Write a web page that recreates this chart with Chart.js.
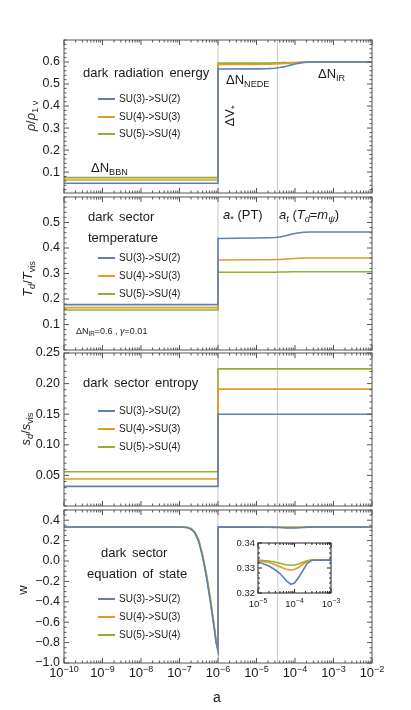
<!doctype html>
<html>

<head>
	<title>Dark sector evolution</title>
	<script src="https://cdn.jsdelivr.net/npm/chart.js@4.4.1/dist/chart.umd.min.js"></script>
	<style>
		body {
			margin: 0;
			background: #fff;
		}
		#wrap {
			position: relative;
			width: 411px;
			height: 710px;
			font-family: 'Liberation Sans', Arial, sans-serif;
			color: #1a1a1a;
		}
		.box {
			position: absolute;
			left: 0;
			width: 411px;
		}
		.txt {
			position: absolute;
			white-space: nowrap;
			line-height: 1;
			transform: translateY(-50%);
			font-size: 13px;
		}
		.rot {
			position: absolute;
			white-space: nowrap;
			line-height: 1;
			transform: translate(-50%, -50%) rotate(-90deg);
			font-size: 13px;
		}
		.txt sub, .rot sub {
			font-size: 70%;
			vertical-align: baseline;
			position: relative;
			top: 0.3em;
		}
		.leg {
			font-size: 10px;
		}
		.legline {
			position: absolute;
			height: 2px;
			width: 17px;
		}
	</style>
</head>

<body>
	<div id="wrap">
		<div class="box" style="top:28px;height:177px"><canvas id="c1"></canvas></div>
		<div class="box" style="top:185px;height:177px"><canvas id="c2"></canvas></div>
		<div class="box" style="top:341px;height:177px"><canvas id="c3"></canvas></div>
		<div class="box" style="top:498px;height:195px"><canvas id="c4"></canvas></div>
		<div class="box" style="left:230px;top:533px;width:110px;height:80px"><canvas id="c5"></canvas></div>

		<!-- panel 1 -->
		<div class="txt" style="left:83px;top:72px;word-spacing:2px">dark radiation energy</div>
		<div class="txt" style="left:91px;top:168px">&Delta;N<sub>BBN</sub></div>
		<div class="rot" style="left:230px;top:116px">&Delta;V<sub>*</sub></div>
		<div class="txt" style="left:226px;top:80px">&Delta;N<sub>NEDE</sub></div>
		<div class="txt" style="left:318px;top:74px">&Delta;N<sub>IR</sub></div>
		<div class="rot" style="left:31px;top:116px"><i>&rho;</i>/<i>&rho;</i><sub>1 &nu;</sub></div>

		<!-- panel 2 -->
		<div class="txt" style="left:88px;top:216px;word-spacing:2px">dark sector</div>
		<div class="txt" style="left:88px;top:237px">temperature</div>
		<div class="txt" style="left:76px;top:331px;font-size:9px">&Delta;N<sub>IR</sub>=0.6 , <i>&gamma;</i>=0.01</div>
		<div class="txt" style="left:223px;top:215px"><i>a</i><sub>*</sub> (PT)</div>
		<div class="txt" style="left:279px;top:215px"><i>a<sub>t</sub></i> (<i>T<sub>d</sub></i>=<i>m<sub>&psi;</sub></i>)</div>
		<div class="rot" style="left:28px;top:279px"><i>T<sub>d</sub></i>/<i>T</i><sub>vis</sub></div>

		<!-- panel 3 -->
		<div class="txt" style="left:83px;top:382px;word-spacing:2px">dark sector entropy</div>
		<div class="rot" style="left:26px;top:429px"><i>s<sub>d</sub></i>/<i>s</i><sub>vis</sub></div>

		<!-- panel 4 -->
		<div class="txt" style="left:101px;top:552px;word-spacing:2px">dark sector</div>
		<div class="txt" style="left:87px;top:573px;word-spacing:2px">equation of state</div>
		<div class="rot" style="left:22px;top:590px">w</div>
		<div class="txt" style="left:213px;top:697px;font-size:14px">a</div>
	</div>

	<script>
		// series shared by all panels
		var seriesNames = ['SU(3)->SU(2)', 'SU(4)->SU(3)', 'SU(5)->SU(4)'];
		var seriesColors = ['#5e81b5', '#e19c24', '#8fb032'];
		var markerA = [1e-6, 3.5e-5];

		// dark radiation energy rho/rho_1nu
		var aRho = [1e-10, 1e-6, 1e-6, 1e-5, 2e-5, 3e-5, 4e-5, 5e-5, 6e-5, 8e-5, 1e-4, 1.3e-4, 1.7e-4, 2.5e-4, 1e-2];
		var rhoSU32 = [0.049, 0.049, 0.568, 0.569, 0.570, 0.572, 0.575, 0.578, 0.581, 0.587, 0.591, 0.595, 0.598, 0.600, 0.600];
		var rhoSU43 = [0.064, 0.064, 0.589, 0.589, 0.590, 0.591, 0.592, 0.593, 0.594, 0.596, 0.597, 0.598, 0.599, 0.600, 0.600];
		var rhoSU54 = [0.075, 0.075, 0.595, 0.595, 0.595, 0.596, 0.596, 0.597, 0.597, 0.598, 0.598, 0.599, 0.600, 0.600, 0.600];
		var rhoTicks = [0.1, 0.2, 0.3, 0.4, 0.5, 0.6];

		// dark sector temperature T_d/T_vis
		var aTemp = [1e-10, 1e-6, 1e-6, 1e-5, 2e-5, 3e-5, 4e-5, 5e-5, 6e-5, 8e-5, 1e-4, 1.3e-4, 1.7e-4, 2.5e-4, 1e-2];
		var tempSU32 = [0.178, 0.178, 0.437, 0.439, 0.440, 0.441, 0.443, 0.446, 0.449, 0.454, 0.457, 0.460, 0.462, 0.463, 0.463];
		var tempSU43 = [0.166, 0.166, 0.353, 0.354, 0.354, 0.355, 0.355, 0.356, 0.357, 0.358, 0.359, 0.360, 0.361, 0.361, 0.361];
		var tempSU54 = [0.157, 0.157, 0.305, 0.305, 0.305, 0.305, 0.306, 0.306, 0.306, 0.307, 0.307, 0.307, 0.307, 0.307, 0.307];
		var tempTicks = [0.1, 0.2, 0.3, 0.4, 0.5];

		// dark sector entropy s_d/s_vis
		var aEnt = [1e-10, 1e-6, 1e-6, 1e-2];
		var entSU32 = [0.032, 0.032, 0.150, 0.150];
		var entSU43 = [0.044, 0.044, 0.191, 0.191];
		var entSU54 = [0.056, 0.056, 0.224, 0.224];
		var entTicks = [0.05, 0.10, 0.15, 0.20, 0.25];

		// equation of state w
		var aW = [1e-10, 1e-7, 1.58e-7, 2e-7, 2.51e-7, 3.16e-7, 3.98e-7, 5.01e-7, 6.31e-7, 7.94e-7, 8.91e-7, 1e-6,
			1e-6, 1e-5, 2e-5, 3e-5, 4e-5, 5e-5, 6e-5, 8e-5, 1e-4, 1.3e-4, 1.7e-4, 2.2e-4, 3e-4, 1e-2];
		var wSU32 = [0.3333, 0.3330, 0.328, 0.312, 0.275, 0.190, 0.040, -0.155, -0.395, -0.655, -0.800, -0.885,
			0.3333, 0.3325, 0.3308, 0.3292, 0.3278, 0.3262, 0.3248, 0.3235, 0.3240, 0.3262, 0.3290, 0.3318, 0.3331, 0.3333];
		var wSU43 = [0.3333, 0.3331, 0.329, 0.315, 0.280, 0.198, 0.050, -0.142, -0.380, -0.640, -0.790, -0.870,
			0.3333, 0.3330, 0.3322, 0.3313, 0.3305, 0.3299, 0.3295, 0.3292, 0.3294, 0.3302, 0.3315, 0.3326, 0.3332, 0.3333];
		var wSU54 = [0.3333, 0.3332, 0.330, 0.318, 0.285, 0.205, 0.060, -0.130, -0.365, -0.630, -0.780, -0.860,
			0.3333, 0.3332, 0.3328, 0.3323, 0.3319, 0.3315, 0.3313, 0.3311, 0.3312, 0.3316, 0.3323, 0.3329, 0.3333, 0.3333];
		var wTicks = [-1.0, -0.8, -0.6, -0.4, -0.2, 0.0, 0.2, 0.4];
		var insetTicks = [0.32, 0.33, 0.34];

		var FONT = "'Liberation Sans', Arial, sans-serif";

		// frame with inward ticks on all four sides, marker lines, log x labels
		var frameTicks = {
			id: 'frameTicks',
			beforeDatasetsDraw: function(chart, args, opts) {
				var ctx = chart.ctx, area = chart.chartArea, x = chart.scales.x;
				ctx.save();
				if (opts.white) {
					ctx.fillStyle = '#fff';
					ctx.fillRect(area.left, area.top, area.right - area.left, area.bottom - area.top);
				}
				ctx.strokeStyle = '#c8c8c8';
				ctx.lineWidth = 1;
				markerA.forEach(function(a) {
					var px = x.getPixelForValue(a);
					if (px < area.left || px > area.right) return;
					ctx.beginPath();
					ctx.moveTo(px, area.top);
					ctx.lineTo(px, area.bottom);
					ctx.stroke();
				});
				ctx.restore();
			},
			afterDatasetsDraw: function(chart, args, opts) {
				var ctx = chart.ctx, area = chart.chartArea, x = chart.scales.x, y = chart.scales.y;
				var big = opts.big, small = opts.small;
				ctx.save();
				ctx.strokeStyle = opts.color;
				ctx.lineWidth = 1;
				ctx.strokeRect(area.left, area.top, area.right - area.left, area.bottom - area.top);
				ctx.beginPath();
				var d0 = Math.round(Math.log10(x.min)), d1 = Math.round(Math.log10(x.max));
				for (var d = d0; d <= d1; d++) {
					for (var k = 1; k < 10; k++) {
						var v = k * Math.pow(10, d);
						if (v > x.max * 1.001) continue;
						var px = x.getPixelForValue(v), len = k === 1 ? big : small;
						ctx.moveTo(px, area.bottom);
						ctx.lineTo(px, area.bottom - len);
						ctx.moveTo(px, area.top);
						ctx.lineTo(px, area.top + len);
					}
				}
				var step = opts.yStep;
				for (var i = Math.ceil(y.min / step - 1e-6); i <= Math.floor(y.max / step + 1e-6); i++) {
					var yv = i * step;
					var major = opts.yMajor.some(function(t) { return Math.abs(t - yv) < step / 10; });
					var py = y.getPixelForValue(yv), l2 = major ? big : small;
					ctx.moveTo(area.left, py);
					ctx.lineTo(area.left + l2, py);
					ctx.moveTo(area.right, py);
					ctx.lineTo(area.right - l2, py);
				}
				ctx.stroke();

				if (opts.xLabels) {
					var lb = opts.xLabels;
					ctx.fillStyle = '#1a1a1a';
					ctx.textBaseline = 'alphabetic';
					ctx.textAlign = 'left';
					for (var e = d0; e <= d1; e++) {
						var p = x.getPixelForValue(Math.pow(10, e));
						var ex = '\u2212' + Math.abs(e);
						ctx.font = lb.base + 'px ' + FONT;
						var w1 = ctx.measureText('10').width;
						ctx.font = lb.exp + 'px ' + FONT;
						var w2 = ctx.measureText(ex).width;
						var left = p - (w1 + w2) / 2;
						ctx.font = lb.base + 'px ' + FONT;
						ctx.fillText('10', left, area.bottom + lb.offset);
						ctx.font = lb.exp + 'px ' + FONT;
						ctx.fillText(ex, left + w1, area.bottom + lb.offset - lb.base * 0.42);
					}
				}
				ctx.restore();
			}
		};

		function makeData(xs, lists) {
			return lists.map(function(ys, i) {
				return {
					label: seriesNames[i],
					data: xs.map(function(a, j) { return {x: a, y: ys[j]}; }),
					borderColor: seriesColors[i],
					backgroundColor: seriesColors[i],
					borderWidth: 1.6,
					pointRadius: 0,
					tension: 0,
					fill: false
				};
			});
		}

		function makeChart(id, xs, lists, p) {
			return new Chart(document.getElementById(id), {
				type: 'line',
				data: {datasets: makeData(xs, lists)},
				options: {
					responsive: true,
					maintainAspectRatio: false,
					animation: false,
					layout: {padding: p.padding},
					plugins: {
						legend: {display: false},
						tooltip: {enabled: false},
						frameTicks: p.frame
					},
					scales: {
						x: {
							type: 'logarithmic',
							min: p.xMin,
							max: p.xMax,
							display: false
						},
						y: {
							type: 'linear',
							min: p.yMin,
							max: p.yMax,
							grid: {display: false, drawTicks: false},
							border: {display: false},
							afterBuildTicks: function(s) {
								s.ticks = p.ticks.map(function(v) { return {value: v}; });
							},
							afterFit: function(s) {
								s.width = p.axisWidth;
							},
							ticks: {
								autoSkip: false,
								padding: p.tickPad,
								color: '#1a1a1a',
								font: {family: FONT, size: p.tickSize},
								callback: function(v) {
									return (v < 0 ? '\u2212' : '') + Math.abs(v).toFixed(p.decimals);
								}
							}
						}
					}
				},
				plugins: [frameTicks]
			});
		}

		var mainPad = {top: 12, bottom: 12, left: 0, right: 39};
		var mainFrame = function(major, step, xl) {
			return {big: 5, small: 2.5, color: '#555', yMajor: major, yStep: step, xLabels: xl};
		};

		makeChart('c1', aRho, [rhoSU32, rhoSU43, rhoSU54], {
			padding: mainPad, xMin: 1e-10, xMax: 1e-2, yMin: 0.005, yMax: 0.7, ticks: rhoTicks,
			axisWidth: 64, tickPad: 4, tickSize: 12.5, decimals: 1, frame: mainFrame(rhoTicks, 0.02)
		});
		makeChart('c2', aTemp, [tempSU32, tempSU43, tempSU54], {
			padding: mainPad, xMin: 1e-10, xMax: 1e-2, yMin: 0, yMax: 0.6, ticks: tempTicks,
			axisWidth: 64, tickPad: 4, tickSize: 12.5, decimals: 1, frame: mainFrame(tempTicks, 0.02)
		});
		makeChart('c3', aEnt, [entSU32, entSU43, entSU54], {
			padding: mainPad, xMin: 1e-10, xMax: 1e-2, yMin: 0, yMax: 0.25, ticks: entTicks,
			axisWidth: 64, tickPad: 4, tickSize: 12.5, decimals: 2, frame: mainFrame(entTicks, 0.01)
		});
		makeChart('c4', aW, [wSU32, wSU43, wSU54], {
			padding: {top: 12, bottom: 30, left: 0, right: 39}, xMin: 1e-10, xMax: 1e-2, yMin: -1, yMax: 0.5, ticks: wTicks,
			axisWidth: 64, tickPad: 4, tickSize: 12.5, decimals: 1,
			frame: mainFrame(wTicks, 0.05, {base: 13, exp: 9, offset: 14})
		});
		makeChart('c5', aW, [wSU32, wSU43, wSU54], {
			padding: {top: 10, bottom: 20, left: 0, right: 9}, xMin: 1e-5, xMax: 1e-3, yMin: 0.32, yMax: 0.34, ticks: insetTicks,
			axisWidth: 28, tickPad: 3, tickSize: 9.5, decimals: 2,
			frame: {big: 4, small: 2, color: '#222', yMajor: insetTicks, yStep: 0.002, white: true,
				xLabels: {base: 9.5, exp: 7, offset: 14}}
		});

		// legends inside each panel
		var legendRows = [[99, 117, 134], [258, 276, 294], [411, 429, 447], [599, 617, 635]];
		var wrap = document.getElementById('wrap');
		legendRows.forEach(function(rows) {
			rows.forEach(function(ry, i) {
				var line = document.createElement('div');
				line.className = 'legline';
				line.style.left = '98px';
				line.style.top = (ry - 1) + 'px';
				line.style.background = seriesColors[i];
				wrap.appendChild(line);
				var t = document.createElement('div');
				t.className = 'txt leg';
				t.style.left = '119px';
				t.style.top = ry + 'px';
				t.textContent = seriesNames[i];
				wrap.appendChild(t);
			});
		});
	</script>
</body>

</html>
